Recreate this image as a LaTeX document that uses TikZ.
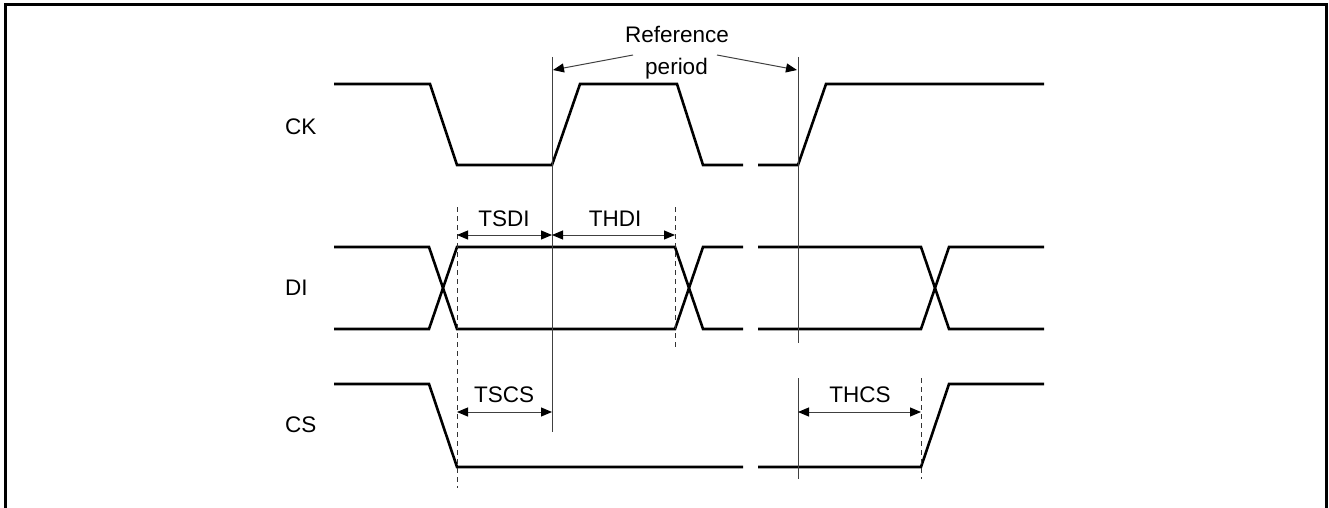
\documentclass[tikz,border=0pt]{standalone}
\usepackage{fontspec}
\setmainfont{Liberation Sans}
\usetikzlibrary{arrows.meta}
\begin{document}
\begin{tikzpicture}[x=1pt,y=-1pt,
  sig/.style={line width=2.6pt,line join=miter},
  thin/.style={line width=1pt,black!75},
  dashline/.style={line width=1pt,black!80,dash pattern=on 5pt off 4pt},
  dim/.style={line width=1pt,black!75,{Triangle[length=11pt,width=9pt,black]}-{Triangle[length=11pt,width=9pt,black]}},
  ptr/.style={line width=1pt,black!75,-{Triangle[length=11pt,width=9pt,black]}},
  lbl/.style={inner sep=0pt,font=\fontsize{22.5}{27}\selectfont}]
\useasboundingbox (0,0) rectangle (1329,508);
\draw[line width=3pt] (5,508) -- (5,4.5) -- (1326,4.5) -- (1326,508);
% signal names
\node[lbl,anchor=west] (ck) at (285,126.5) {CK};
\node[lbl,anchor=west] (di) at (285,288) {DI};
\node[lbl,anchor=west] (cs) at (285,425) {CS};
% CK
\draw[sig] (334,84) -- (430,84) -- (457,165) -- (552,165) -- (580,84) -- (677,84) -- (703,165) -- (743,165);
\draw[sig] (758,165) -- (798,165) -- (826,84) -- (1044,84);
% DI
\draw[sig] (334,247) -- (429,247) -- (457,329) -- (675,329) -- (703,247) -- (743,247);
\draw[sig] (334,329) -- (429,329) -- (457,247) -- (675,247) -- (703,329) -- (743,329);
\draw[sig] (758,247) -- (921,247) -- (949,329) -- (1044,329);
\draw[sig] (758,329) -- (921,329) -- (949,247) -- (1044,247);
% CS
\draw[sig] (334,384) -- (429,384) -- (457,467) -- (743,467);
\draw[sig] (758,467) -- (921,467) -- (949,384) -- (1044,384);
% reference lines
\coordinate (r1t) at (552,57);
\coordinate (r1b) at (552,432);
\coordinate (r2t) at (798,57);
\coordinate (r2m) at (798,343);
\coordinate (r2n) at (798,378);
\coordinate (r2b) at (798,479);
\draw[thin] (r1t) -- (r1b);
\draw[thin] (r2t) -- (r2m);
\draw[thin] (r2n) -- (r2b);
% dashed lines
\coordinate (d1t) at (457,207);
\coordinate (d1b) at (457,488);
\coordinate (d2t) at (675,207);
\coordinate (d2b) at (675,348);
\coordinate (d3t) at (921,378);
\coordinate (d3b) at (921,479);
\draw[dashline] (d1t) -- (d1b);
\draw[dashline] (d2t) -- (d2b);
\draw[dashline] (d3t) -- (d3b);
% dimension arrows
\coordinate (a1) at (457,235);
\coordinate (a2) at (552,235);
\coordinate (a3) at (675,235);
\coordinate (b1) at (457,412);
\coordinate (b2) at (552,412);
\coordinate (b3) at (798,412);
\coordinate (b4) at (921,412);
\draw[dim] (a1) -- (a2);
\draw[dim] (a2) -- (a3);
\draw[dim] (b1) -- (b2);
\draw[dim] (b3) -- (b4);
\node[lbl] (tsdi) at (504,218.5) {TSDI};
\node[lbl] (thdi) at (615,218.5) {THDI};
\node[lbl] (tscs) at (504,395) {TSCS};
\node[lbl] (thcs) at (860,395) {THCS};
% reference period
\node[lbl,anchor=base] (ref) at (677,43) {Reference};
\node[lbl,anchor=base] (per) at (676.5,75) {period};
\coordinate (p1s) at (633,55);
\coordinate (p1e) at (553,70);
\coordinate (p2s) at (717,55);
\coordinate (p2e) at (797,70);
\draw[ptr] (p1s) -- (p1e);
\draw[ptr] (p2s) -- (p2e);
\end{tikzpicture}
\end{document}
